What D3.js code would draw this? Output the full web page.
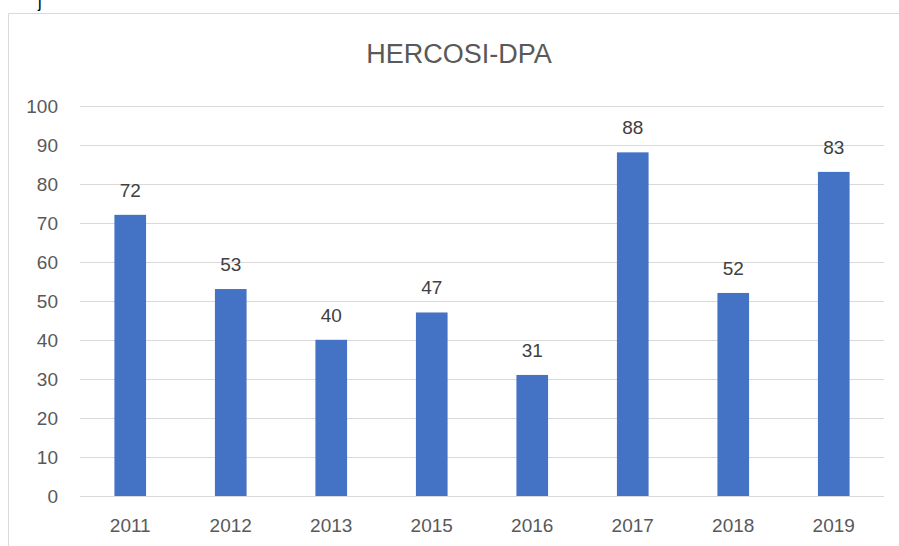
<!DOCTYPE html>
<html>
<head>
    <title>HERCOSI-DPA</title>
    <style>
        body { margin: 0; background: #fff; font-family: "Liberation Sans", Arial, sans-serif; }
        svg { display: block; }
        .grid line { stroke: #d9d9d9; stroke-width: 1; }
        .axis text { fill: #595959; font-size: 19px; }
        .label { fill: #404040; font-size: 19px; }
        .title { fill: #595959; font-size: 27px; }
    </style>
</head>
<body>
    <svg id="chart" width="899" height="546"></svg>
    <script src="https://d3js.org/d3.v7.min.js"></script>
    <script>
        // Data
        const years = ["2011", "2012", "2013", "2015", "2016", "2017", "2018", "2019"];
        const values = [72, 53, 40, 47, 31, 88, 52, 83];
        const yTicks = [0, 10, 20, 30, 40, 50, 60, 70, 80, 90, 100];

        const svg = d3.select("#chart");

        // Chart frame (only top and left visible in the crop)
        svg.append("path")
            .attr("d", "M8.5,546 V13.5 H899")
            .attr("fill", "none")
            .attr("stroke", "#d9d9d9");

        // cut-off character above the frame
        svg.append("text")
            .attr("x", 38).attr("y", 8)
            .attr("font-size", 16)
            .attr("fill", "#000")
            .text("j");

        // Scales
        const x = d3.scaleBand().domain(years).range([80, 884]).paddingInner(0.685).paddingOuter(0.3425);
        const y = d3.scaleLinear().domain([0, 100]).range([496, 105.5]);

        // Gridlines
        svg.append("g").attr("class", "grid")
            .selectAll("line")
            .data(yTicks)
            .enter().append("line")
            .attr("x1", 80).attr("x2", 884)
            .attr("y1", d => Math.round(y(d)) + 0.5)
            .attr("y2", d => Math.round(y(d)) + 0.5);

        // Y axis labels
        svg.append("g").attr("class", "axis")
            .selectAll("text")
            .data(yTicks)
            .enter().append("text")
            .attr("x", 58)
            .attr("y", d => y(d) + 7)
            .attr("text-anchor", "end")
            .text(d => d);

        // X axis labels
        svg.append("g").attr("class", "axis")
            .selectAll("text")
            .data(years)
            .enter().append("text")
            .attr("x", d => x(d) + x.bandwidth() / 2)
            .attr("y", 532)
            .attr("text-anchor", "middle")
            .text(d => d);

        // Bars
        svg.append("g")
            .selectAll("rect")
            .data(values)
            .enter().append("rect")
            .attr("x", (d, i) => x(years[i]))
            .attr("width", x.bandwidth())
            .attr("y", d => y(d))
            .attr("height", d => y(0) - y(d))
            .attr("fill", "#4472c4");

        // Value labels
        svg.append("g")
            .selectAll("text")
            .data(values)
            .enter().append("text")
            .attr("class", "label")
            .attr("x", (d, i) => x(years[i]) + x.bandwidth() / 2)
            .attr("y", d => y(d) - 18)
            .attr("text-anchor", "middle")
            .text(d => d);

        // Title
        svg.append("text")
            .attr("class", "title")
            .attr("x", 459).attr("y", 63)
            .attr("text-anchor", "middle")
            .text("HERCOSI-DPA");
    </script>
</body>
</html>
